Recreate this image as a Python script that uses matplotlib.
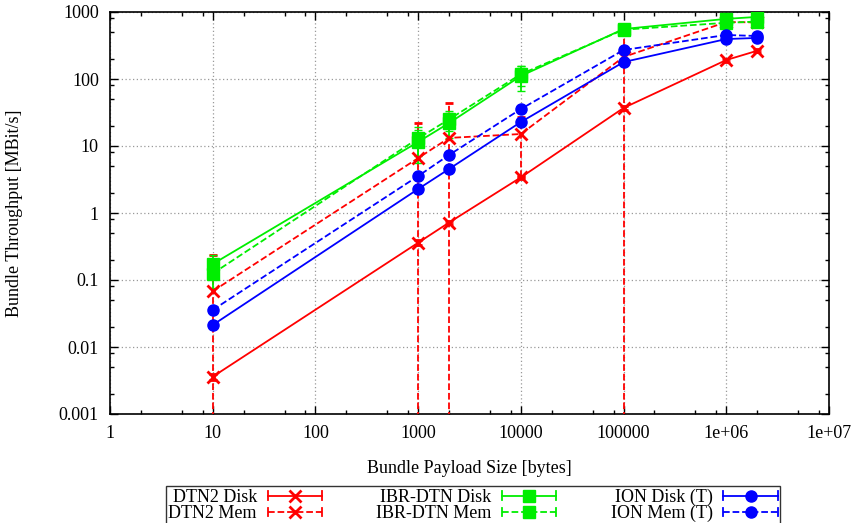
import numpy as np
import matplotlib
matplotlib.use("Agg")
import matplotlib.pyplot as plt
from matplotlib.lines import Line2D
from matplotlib.legend_handler import HandlerLine2D
from matplotlib.ticker import LogLocator, FixedLocator, NullFormatter

plt.rcParams["font.family"] = ["Liberation Serif", "DejaVu Serif"]
plt.rcParams["font.size"] = 13

RED, GREEN, BLUE = "#ff0000", "#00ee00", "#0000ff"

SIZES = [10, 1000, 2000, 10000, 100000, 1000000, 2000000]

dtn2_disk = [0.0036, 0.36, 0.72, 3.4, 37, 192, 264]
dtn2_disk_err = [0.0004, 0.03, 0.04, 0.2, 2, 10, 12]
dtn2_mem = [0.068, 6.6, 13.2, 15.1, 213, 708, 700]
dtn2_mem_err = [0.17, 15.5, 31, 11.7, 260, 90, 80]

ibr_disk = [0.173, 11.5, 22, 111, 557, 790, 845]
ibr_disk_err = [0.06, 6, 9, 45, 30, 40, 40]
ibr_mem = [0.125, 13, 25, 118, 545, 690, 720]
ibr_mem_err = [0.05, 6, 8, 40, 30, 40, 40]

ion_disk = [0.0213, 2.28, 4.54, 22.8, 179, 395, 410]
ion_disk_err = [0.001, 0.1, 0.2, 1, 8, 20, 20]
ion_mem = [0.0357, 3.56, 7.35, 35.6, 271, 454, 438]
ion_mem_err = [0.002, 0.2, 0.3, 1.5, 12, 20, 20]

SERIES = [
    ("DTN2 Disk", dtn2_disk, dtn2_disk_err, RED, "-", "x"),
    ("DTN2 Mem", dtn2_mem, dtn2_mem_err, RED, "--", "x"),
    ("IBR-DTN Disk", ibr_disk, ibr_disk_err, GREEN, "-", "s"),
    ("IBR-DTN Mem", ibr_mem, ibr_mem_err, GREEN, "--", "s"),
    ("ION Disk (T)", ion_disk, ion_disk_err, BLUE, "-", "o"),
    ("ION Mem (T)", ion_mem, ion_mem_err, BLUE, "--", "o"),
]


class CapHandler(HandlerLine2D):
    def create_artists(self, legend, orig_handle, xdescent, ydescent,
                       width, height, fontsize, trans):
        arts = super().create_artists(legend, orig_handle, xdescent, ydescent,
                                      width, height, fontsize, trans)
        yc = (height - ydescent) / 2
        for xx in (-xdescent, -xdescent + width):
            arts.append(Line2D([xx, xx], [yc - 3, yc + 3], color=orig_handle.get_color(),
                               lw=1.3, transform=trans))
        return arts


fig = plt.figure(figsize=(8.57, 5.23), dpi=100)
ax = fig.add_axes([110 / 857, 1 - 414 / 523, 719 / 857, 402 / 523])
ax.set_xscale("log")
ax.set_yscale("log")

handles = []
for name, vals, err, col, ls, mk in SERIES:
    ms = {"x": 9, "s": 9, "o": 8}[mk]
    mew = 2 if mk == "x" else 1
    eb = ax.errorbar(SIZES, vals, yerr=err, color=col, ls=ls, lw=1.3,
                     marker=mk, ms=ms, mew=mew, capsize=3, elinewidth=1.3,
                     capthick=1.3, zorder=3)
    eb[2][0].set_linestyle(ls)
    h = Line2D([], [], color=col, ls=ls, lw=1.3, marker=mk, ms=ms, mew=mew)
    handles.append(h)

ax.set_xlim(1, 1e7)
ax.set_ylim(0.001, 1000)
ax.xaxis.set_major_locator(FixedLocator([10.0 ** k for k in range(8)]))
ax.set_xticklabels(["1", "10", "100", "1000", "10000", "100000", "1e+06", "1e+07"])
ax.yaxis.set_major_locator(FixedLocator([10.0 ** k for k in range(-3, 4)]))
ax.set_yticklabels(["0.001", "0.01", "0.1", "1", "10", "100", "1000"])
ax.xaxis.set_minor_locator(LogLocator(base=10, subs=(2, 5, 8), numticks=20))
ax.yaxis.set_minor_locator(LogLocator(base=10, subs=(2, 5, 8), numticks=20))
ax.xaxis.set_minor_formatter(NullFormatter())
ax.yaxis.set_minor_formatter(NullFormatter())
ax.tick_params(which="both", direction="in", top=True, right=True, width=1)
ax.tick_params(which="major", length=6, pad=8)
ax.tick_params(which="minor", length=3)
for s in ax.spines.values():
    s.set_linewidth(1.2)
ax.grid(True, which="major", ls=(0, (1, 2)), color="#999999", lw=0.9)
ax.set_axisbelow(True)

ax.set_xlabel("Bundle Payload Size [bytes]", labelpad=13)
ax.set_ylabel("Bundle Throughput [MBit/s]", labelpad=26)

leg = fig.legend(handles, [s[0] for s in SERIES], ncol=3, markerfirst=False,
                 loc="upper center", bbox_to_anchor=(473 / 857, 1 - 486 / 523),
                 borderaxespad=0, frameon=True, fancybox=False, edgecolor="black",
                 handlelength=3.0, columnspacing=3.0, handletextpad=0.6,
                 borderpad=0.15, labelspacing=-0.05,
                 handler_map={Line2D: CapHandler()})
leg.get_frame().set_linewidth(1.0)

fig.savefig("out.png", dpi=100, facecolor="white")
